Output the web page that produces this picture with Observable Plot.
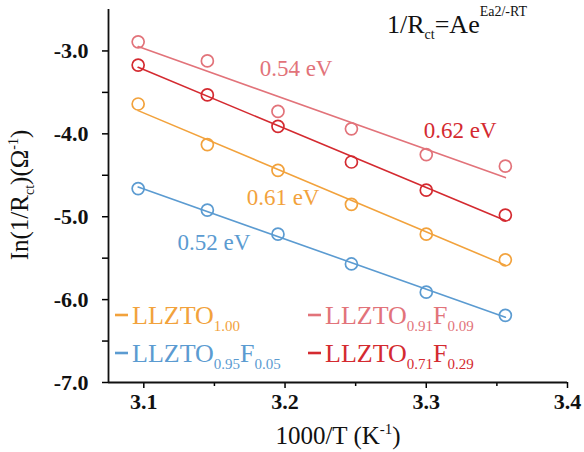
<!DOCTYPE html>
<html><head><meta charset="utf-8">
<script src="https://cdn.jsdelivr.net/npm/d3@7"></script>
<script src="https://cdn.jsdelivr.net/npm/@observablehq/plot@0.6"></script>
<style>
body{margin:0;background:#fff}
#chart svg text, #chart svg tspan, #chart svg g {font-family: 'Liberation Serif', 'Times New Roman', serif !important;}
</style>
</head><body><div id="chart"></div>
<script>
// 1000/T (K^-1)
const invT = [3.096, 3.145, 3.195, 3.247, 3.300, 3.356];
const seriesNames = ["LLZTO1.00", "LLZTO0.95F0.05", "LLZTO0.91F0.09", "LLZTO0.71F0.29"];
const ln100 = [-3.64, -4.13, -4.44, -4.85, -5.21, -5.52];
const ln095 = [-4.66, -4.92, -5.21, -5.57, -5.91, -6.19];
const ln091 = [-2.89, -3.12, -3.73, -3.94, -4.25, -4.39];
const ln071 = [-3.17, -3.53, -3.91, -4.34, -4.68, -4.98];
const seriesValues = [ln100, ln095, ln091, ln071];
const colors = ["#f2a23c", "#5b9bd1", "#e2737a", "#d42a30"];
const energies = ["0.61 eV", "0.52 eV", "0.54 eV", "0.62 eV"];
const xTicks = [3.1, 3.2, 3.3, 3.4];
const xMinor = [3.15, 3.25, 3.35];
const yTicks = [-7, -6, -5, -4, -3];
const yMinor = [-6.5, -5.5, -4.5, -3.5];
// legend parts: [main, sub1, F, sub2]
const legendParts = [
  ["LLZTO", "1.00", "", ""],
  ["LLZTO", "0.95", "F", "0.05"],
  ["LLZTO", "0.91", "F", "0.09"],
  ["LLZTO", "0.71", "F", "0.29"]
];

const data = seriesNames.flatMap((s, i) => invT.map((x, j) => ({series: s, x, y: seriesValues[i][j]})));

const xDom = [3.075, 3.4], yDom = [-7, -2.5];
const font = "'Liberation Serif', 'Times New Roman', serif";

const svg = Plot.plot({
  width: 584, height: 452,
  marginTop: 9, marginRight: 17, marginBottom: 70, marginLeft: 108,
  style: {fontFamily: font, background: "#fff"},
  x: {domain: xDom, label: null},
  y: {domain: yDom, label: null},
  color: {domain: seriesNames, range: colors},
  marks: [
    Plot.axisX({ticks: xTicks, tickFormat: d => d.toFixed(1), tickSize: 6, tickPadding: 5, fontSize: 22, fontWeight: "bold", fontFamily: font, fill: "#111", strokeWidth: 1.5}),
    Plot.axisX({ticks: xMinor, tickSize: 4, text: null, strokeWidth: 1.5}),
    Plot.axisY({ticks: yTicks, tickFormat: d => "-" + Math.abs(d).toFixed(1), tickSize: 6, tickPadding: 14, fontSize: 22, fontWeight: "bold", fontFamily: font, fill: "#111", strokeWidth: 1.5}),
    Plot.axisY({ticks: yMinor, tickSize: 6, text: null, strokeWidth: 1.5}),
    Plot.ruleX([xDom[0]], {stroke: "#111", strokeWidth: 1.8}),
    Plot.ruleY([yDom[0]], {stroke: "#111", strokeWidth: 1.8}),
    Plot.linearRegressionY(data, {x: "x", y: "y", stroke: "series", ci: 0, strokeWidth: 1.6}),
    Plot.dot(data, {x: "x", y: "y", stroke: "series", r: 6, strokeWidth: 1.7, fill: "none"}),
    Plot.text(energies, {
      x: [3.1986, 3.1496, 3.2078, 3.324],
      y: [-4.767, -5.31, -3.209, -3.958],
      text: d => d, fill: colors, fontSize: 23, fontFamily: font, textAnchor: "middle", lineAnchor: "middle"
    })
  ]
});
document.getElementById("chart").appendChild(svg);

const g = d3.select(svg).append("g").attr("font-family", font);
function rich(x, y, parts, size, small, opts = {}) {
  const t = g.append("text").attr("x", x).attr("y", y).attr("font-size", size)
    .attr("fill", opts.fill || "#111").attr("text-anchor", opts.anchor || "start");
  if (opts.transform) t.attr("transform", opts.transform);
  let off = 0;
  for (const [s, k, d] of parts) {
    if (!s) continue;
    const target = k === "n" ? 0 : d;
    t.append("tspan").attr("dy", target - off).attr("font-size", k === "n" ? size : small).text(s);
    off = target;
  }
  return t;
}

// legend
const legendPos = [[115, 324], [115, 362], [308, 324], [308, 362]];
legendParts.forEach((p, i) => {
  const [lx, ly] = legendPos[i];
  g.append("line").attr("x1", lx).attr("x2", lx + 13).attr("y1", ly - 9).attr("y2", ly - 9)
    .attr("stroke", colors[i]).attr("stroke-width", 2.6);
  rich(lx + 17, ly, [[p[0], "n"], [p[1], "sub", 7], [p[2], "n"], [p[3], "sub", 7]], 26, 15, {fill: colors[i]});
});

// formula
rich(387, 33, [["1/R", "n"], ["ct", "sub", 6], ["=Ae", "n"], ["Ea2/-RT", "sup", -17]], 26, 14);

// axis labels
rich(338, 444, [["1000/T (K", "n"], ["-1", "sup", -10], [")", "n"]], 25, 15, {anchor: "middle"});
rich(0, 0, [["In(1/R", "n"], ["ct", "sub", 6], [")(Ω", "n"], ["-1", "sup", -10], [")", "n"]], 25, 14,
  {anchor: "middle", transform: "translate(28,195) rotate(-90)"});
</script>
</body></html>
